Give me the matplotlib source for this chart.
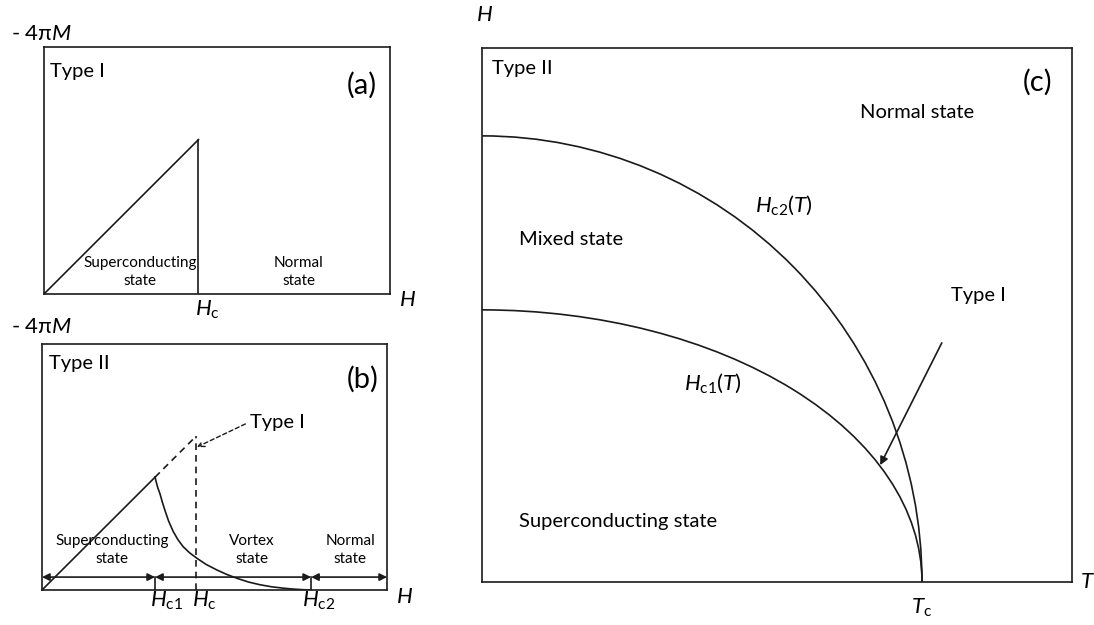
import numpy as np
import matplotlib
matplotlib.use("Agg")
import matplotlib.pyplot as plt
from matplotlib.patches import Arc

plt.rcParams['font.family'] = ['Lato', 'DejaVu Sans']
plt.rcParams['mathtext.fontset'] = 'custom'
plt.rcParams['mathtext.rm'] = 'Lato'
plt.rcParams['mathtext.it'] = 'Lato:italic'

# Field scale: H in units of the thermodynamic critical field Hc
Hc = 1.0
Hc1 = 0.734
Hc2 = 1.747
H_max = 2.24
M_max = 1.60

# -4piM of a type II sample above Hc1 (vortex state)
H_vortex = [0.734, 0.742, 0.752, 0.766, 0.781, 0.799, 0.822, 0.851, 0.882, 0.916, 0.958,
            1.006, 1.066, 1.136, 1.200, 1.266, 1.340, 1.416, 1.490, 1.565, 1.630, 1.695, 1.747]
M_vortex = [0.734, 0.700, 0.664, 0.625, 0.572, 0.515, 0.448, 0.382, 0.328, 0.282, 0.242,
            0.206, 0.166, 0.130, 0.101, 0.076, 0.052, 0.034, 0.021, 0.012, 0.006, 0.002, 0.0]

# Phase diagram (T in units of Tc, H in units of Hc2(0))
Tc = 1.0
Hc1_0 = 0.61
Hc2_0 = 1.0
T_max = 1.341
H_top = 1.197

INK = '#1a1a1a'
LW = 1.2
FS_LABEL = 14.5
FS_SMALL = 11
FS_MATH = 16
FS_TAG = 21

fig = plt.figure(figsize=(10.94, 6.25), dpi=100)
ax_a = fig.add_axes([0.0402, 0.5296, 0.3163, 0.3952])
ax_b = fig.add_axes([0.0384, 0.0560, 0.3154, 0.3936])
ax_c = fig.add_axes([0.4406, 0.0688, 0.5393, 0.8544])

for ax in (ax_a, ax_b, ax_c):
    ax.set_xticks([])
    ax.set_yticks([])
    for sp in ax.spines.values():
        sp.set_color(INK)
        sp.set_linewidth(1.2)

# (a) type I: perfect diamagnetism up to Hc, then nothing
ax_a.set_xlim(0, H_max)
ax_a.set_ylim(0, M_max)
ax_a.plot([0, Hc], [0, Hc], color=INK, lw=LW)
ax_a.plot([Hc, Hc], [0, Hc], color=INK, lw=LW)
ax_a.text(0.039, 1.44, 'Type I', fontsize=FS_LABEL, va='center', ha='left')
ax_a.text(2.06, 1.35, '(a)', fontsize=FS_TAG, va='center', ha='center')
ax_a.text(0.62, 0.145, 'Superconducting\nstate', fontsize=FS_SMALL, ha='center', va='center',
          linespacing=1.35)
ax_a.text(1.65, 0.145, 'Normal\nstate', fontsize=FS_SMALL, ha='center', va='center',
          linespacing=1.35)
ax_a.text(Hc - 0.025, -0.105, r'$\mathit{H}_\mathrm{c}$', fontsize=FS_MATH, ha='left',
          va='center', clip_on=False)
ax_a.text(2.30, -0.04, r'$\mathit{H}$', fontsize=FS_MATH, ha='left', va='center', clip_on=False)
ax_a.text(-0.215, 1.685, r'- 4π$\mathit{M}$', fontsize=FS_MATH, ha='left', va='center',
          clip_on=False)

# (b) type II: Meissner line, vortex state, dashed type I reference
ax_b.set_xlim(0, H_max)
ax_b.set_ylim(0, M_max)
ax_b.plot([0, Hc1], [0, Hc1], color=INK, lw=LW)
ax_b.plot([Hc1, Hc], [Hc1, Hc], color=INK, lw=LW, ls=(0, (4, 3)))
ax_b.plot([Hc, Hc], [0, Hc], color=INK, lw=LW, ls=(0, (4, 3)))
ax_b.plot(H_vortex, M_vortex, color=INK, lw=LW)

y_arr = 0.084
for x0, x1 in [(0, Hc1), (Hc1, Hc2), (Hc2, H_max)]:
    ax_b.annotate('', xy=(x1, y_arr), xytext=(x0, y_arr),
                  arrowprops=dict(arrowstyle='<|-|>', color=INK, lw=LW,
                                  mutation_scale=11, shrinkA=0, shrinkB=0))
for xt in (Hc1, Hc2):
    ax_b.plot([xt, xt], [0, y_arr], color=INK, lw=LW)

ax_b.annotate('', xy=(Hc + 0.006, 0.93), xytext=(1.32, 1.08),
              arrowprops=dict(arrowstyle='->', color=INK, lw=1.0, ls=(0, (3, 2)),
                              mutation_scale=11, shrinkA=0, shrinkB=0))
ax_b.text(1.35, 1.09, 'Type I', fontsize=FS_LABEL, ha='left', va='center')
ax_b.text(0.045, 1.474, 'Type II', fontsize=FS_LABEL, va='center', ha='left')
ax_b.text(2.08, 1.37, '(b)', fontsize=FS_TAG, va='center', ha='center')
ax_b.text(0.455, 0.26, 'Superconducting\nstate', fontsize=FS_SMALL, ha='center', va='center',
          linespacing=1.35)
ax_b.text(1.36, 0.26, 'Vortex\nstate', fontsize=FS_SMALL, ha='center', va='center',
          linespacing=1.35)
ax_b.text(2.0, 0.26, 'Normal\nstate', fontsize=FS_SMALL, ha='center', va='center',
          linespacing=1.35)
for xl, lab in [(0.70, r'$\mathit{H}_\mathrm{c1}$'), (0.972, r'$\mathit{H}_\mathrm{c}$'),
                (1.69, r'$\mathit{H}_\mathrm{c2}$')]:
    ax_b.text(xl, -0.068, lab, fontsize=FS_MATH, ha='left', va='center', clip_on=False)
ax_b.text(2.30, -0.045, r'$\mathit{H}$', fontsize=FS_MATH, ha='left', va='center',
          clip_on=False)
ax_b.text(-0.20, 1.71, r'- 4π$\mathit{M}$', fontsize=FS_MATH, ha='left', va='center',
          clip_on=False)

# (c) H-T phase diagram of a type II superconductor
ax_c.set_xlim(0, T_max)
ax_c.set_ylim(0, H_top)
for h0 in (Hc2_0, Hc1_0):
    ax_c.add_patch(Arc((0, 0), 2 * Tc, 2 * h0, theta1=0, theta2=90,
                       color=INK, lw=LW))
ax_c.annotate('', xy=(0.905, 0.262), xytext=(1.045, 0.536),
              arrowprops=dict(arrowstyle='-|>', color=INK, lw=LW,
                              mutation_scale=12, shrinkA=0, shrinkB=0))
ax_c.text(0.023, 1.15, 'Type II', fontsize=FS_LABEL, ha='left', va='center')
ax_c.text(1.262, 1.12, '(c)', fontsize=FS_TAG, ha='center', va='center')
ax_c.text(0.989, 1.052, 'Normal state', fontsize=FS_LABEL, ha='center', va='center')
ax_c.text(0.62, 0.845, r'$\mathit{H}_\mathrm{c2}\mathit{(T)}$', fontsize=FS_MATH, ha='left',
          va='center')
ax_c.text(0.084, 0.767, 'Mixed state', fontsize=FS_LABEL, ha='left', va='center')
ax_c.text(1.066, 0.643, 'Type I', fontsize=FS_LABEL, ha='left', va='center')
ax_c.text(0.459, 0.446, r'$\mathit{H}_\mathrm{c1}\mathit{(T)}$', fontsize=FS_MATH, ha='left',
          va='center')
ax_c.text(0.084, 0.135, 'Superconducting state', fontsize=FS_LABEL, ha='left', va='center')
ax_c.text(0.006, 1.27, r'$\mathit{H}$', fontsize=FS_MATH, ha='center', va='center',
          clip_on=False)
ax_c.text(1.375, 0.0, r'$\mathit{T}$', fontsize=FS_MATH, ha='center', va='center',
          clip_on=False)
ax_c.text(Tc, -0.058, r'$\mathit{T}_\mathrm{c}$', fontsize=FS_MATH, ha='center', va='center',
          clip_on=False)

fig.savefig('out.png', dpi=100)
